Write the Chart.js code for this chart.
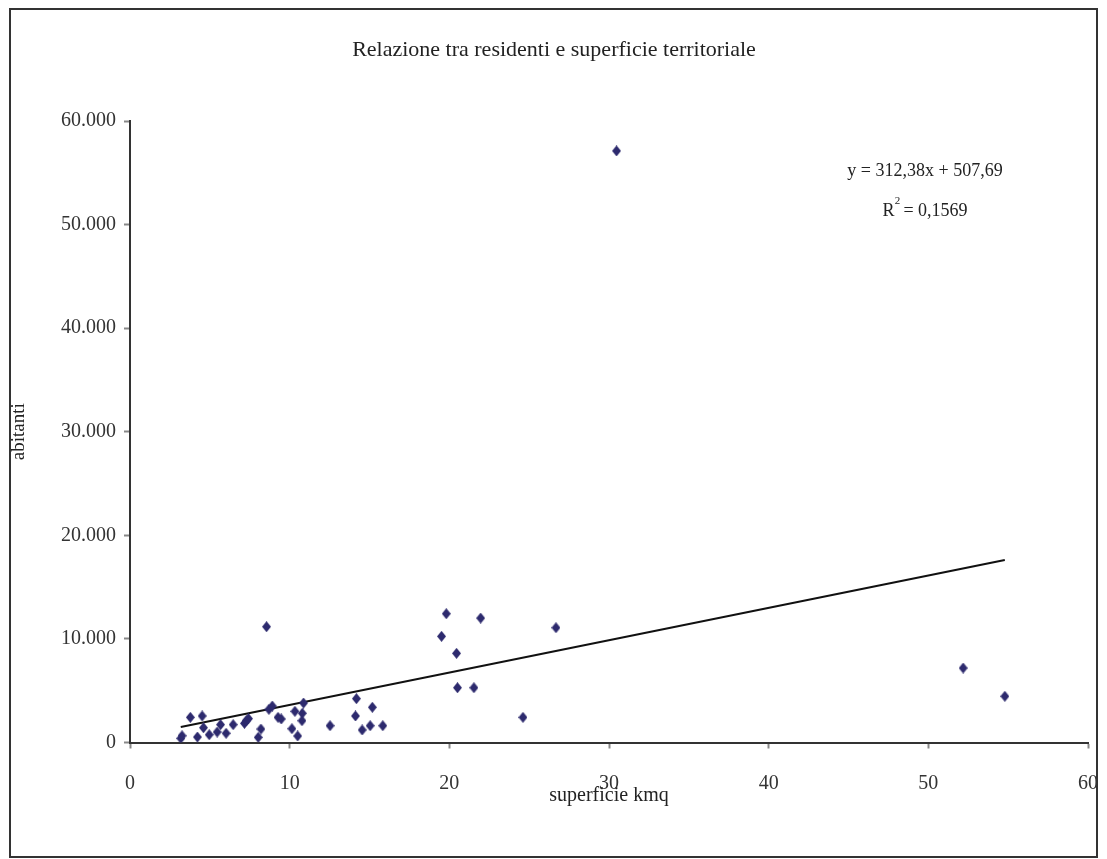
<!DOCTYPE html>
<html>
<head>
<meta charset="utf-8">
<script src="https://cdn.jsdelivr.net/npm/chart.js@4/dist/chart.umd.min.js"></script>
<style>
   html, body { margin: 0; padding: 0; background: #fff; }
   #wrap { width: 1107px; height: 859px; }
</style>
</head>
<body>
<div id="wrap"><canvas id="grafico" width="1107" height="859"></canvas></div>
<script>
// superficie territoriale (kmq) e residenti di ogni comune
const superficie = [3.18, 3.26, 3.78, 4.22, 4.52, 4.60, 4.96, 5.46, 5.67, 6.02, 6.46, 7.17, 7.28, 7.42, 8.55,
   8.20, 8.03, 8.70, 8.91, 9.27, 9.47, 10.14, 10.33, 10.50, 10.79, 10.77, 10.87, 12.53, 14.18, 14.12, 14.54,
   15.18, 15.04, 15.83, 19.81, 19.51, 21.96, 20.45, 20.51, 21.54, 24.61, 26.68, 30.47, 52.18, 54.79];
const abitanti = [400, 650, 2430, 530, 2560, 1430, 750, 1010, 1720, 890, 1720, 1850, 2100, 2300, 11180,
   1300, 500, 3200, 3520, 2430, 2270, 1330, 3010, 630, 2820, 2100, 3810, 1620, 4230, 2560, 1210,
   3400, 1620, 1620, 12430, 10250, 12010, 8610, 5290, 5290, 2430, 11080, 57110, 7190, 4460];

// retta di tendenza lineare (Excel)
const pendenza = 312.38;
const intercetta = 507.69;
const equazione = 'y = 312,38x + 507,69';
const erre2 = '0,1569';

const xTicks = [0, 10, 20, 30, 40, 50, 60];
const yTicks = [0, 10000, 20000, 30000, 40000, 50000, 60000];

const FONT = '"Liberation Serif", "DejaVu Serif", serif';

const punti = superficie.map((x, i) => ({ x: x, y: abitanti[i] }));
const xMin = Math.min(...superficie);
const xMax = Math.max(...superficie);
const tendenza = [
   { x: xMin, y: pendenza * xMin + intercetta },
   { x: xMax, y: pendenza * xMax + intercetta }
];

// marcatore a rombo, un po' più alto che largo
const rombo = document.createElement('canvas');
rombo.width = 9;
rombo.height = 11;
const rc = rombo.getContext('2d');
rc.fillStyle = '#2d2a6e';
rc.beginPath();
rc.moveTo(4.5, 0);
rc.lineTo(9, 5.5);
rc.lineTo(4.5, 11);
rc.lineTo(0, 5.5);
rc.closePath();
rc.fill();

function formatoMigliaia(v) {
   return String(v).replace(/\B(?=(\d{3})+(?!\d))/g, '.');
}

const cornice = {
   id: 'cornice',
   beforeDraw(chart) {
      const ctx = chart.ctx;
      ctx.save();
      ctx.fillStyle = '#fff';
      ctx.fillRect(0, 0, chart.width, chart.height);
      ctx.strokeStyle = '#333';
      ctx.lineWidth = 2;
      ctx.strokeRect(10, 9, 1087, 848);
      ctx.restore();
   },
   afterDraw(chart) {
      const ctx = chart.ctx;
      ctx.save();
      ctx.fillStyle = '#222';
      ctx.textAlign = 'center';
      ctx.textBaseline = 'middle';
      ctx.font = '22px ' + FONT;
      ctx.fillText('Relazione tra residenti e superficie territoriale', 554, 50);
      ctx.font = '18px ' + FONT;
      ctx.fillText(equazione, 925, 171);
      ctx.fillText('R  = ' + erre2, 925, 211);
      const w = ctx.measureText('R  = ' + erre2).width;
      ctx.font = '11px ' + FONT;
      ctx.fillText('2', 925 - w / 2 + 15, 201);
      ctx.restore();
   }
};

new Chart(document.getElementById('grafico').getContext('2d'), {
   type: 'scatter',
   data: {
      datasets: [{
            label: 'abitanti',
            data: punti,
            pointStyle: rombo,
            pointRadius: 5,
            pointHoverRadius: 5
         },
         {
            label: 'tendenza',
            type: 'line',
            data: tendenza,
            borderColor: '#111',
            borderWidth: 2,
            pointRadius: 0,
            fill: false
         }
      ]
   },
   plugins: [cornice],
   options: {
      responsive: false,
      animation: false,
      layout: {
         padding: { left: 0, right: 19, top: 121, bottom: 0 }
      },
      plugins: {
         legend: { display: false },
         tooltip: { enabled: false }
      },
      scales: {
         x: {
            type: 'linear',
            min: 0,
            max: 60,
            afterBuildTicks: (s) => { s.ticks = xTicks.map(v => ({ value: v })); },
            afterFit: (s) => {
               s.height = 116.5;
               s.paddingLeft = 0;
               s.paddingRight = 0;
            },
            grid: { drawOnChartArea: false, tickLength: 6, color: '#888', tickWidth: 2 },
            border: { color: '#333', width: 2 },
            ticks: { color: '#333', padding: 23, font: { family: FONT, size: 20 } },
            title: {
               display: true,
               text: 'superficie kmq',
               color: '#222',
               font: { family: FONT, size: 20 },
               padding: { top: 0, bottom: 51 }
            }
         },
         y: {
            type: 'linear',
            min: 0,
            max: 60000,
            afterBuildTicks: (s) => { s.ticks = yTicks.map(v => ({ value: v })); },
            afterFit: (s) => { s.width = 130; },
            grid: { drawOnChartArea: false, tickLength: 6, color: '#888', tickWidth: 2 },
            border: { color: '#333', width: 2 },
            ticks: {
               color: '#333',
               padding: 8,
               font: { family: FONT, size: 20 },
               callback: (v) => formatoMigliaia(v)
            },
            title: {
               display: true,
               text: 'abitanti',
               color: '#222',
               font: { family: FONT, size: 19 },
               padding: { top: 8, bottom: 0 }
            }
         }
      }
   }
});
</script>
</body>
</html>
